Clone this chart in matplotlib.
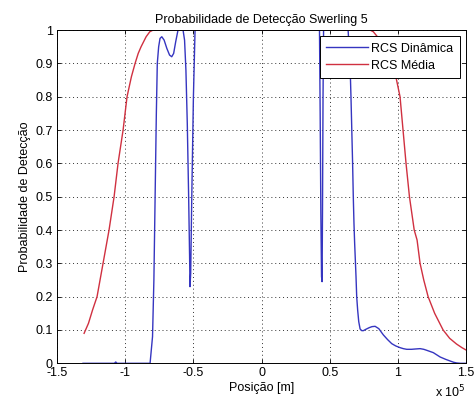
import matplotlib
matplotlib.use("Agg")
import matplotlib.pyplot as plt

plt.rcParams['font.family'] = ['Liberation Sans', 'DejaVu Sans']

# Positions in units of 1e5 m
rcs_din_x = [-1.31, -1.08, -1.07, -1.06, -0.818, -0.80, -0.79, -0.781, -0.772, -0.765,
             -0.755, -0.745, -0.732, -0.715, -0.695, -0.675, -0.659, -0.645, -0.63,
             -0.613, -0.576, -0.565, -0.555, -0.545, -0.535, -0.528, -0.525, -0.52,
             -0.512, -0.50, -0.488, 0.425, 0.43, 0.435, 0.44, 0.444, 0.447, 0.451,
             0.455, 0.635, 0.642, 0.649, 0.656, 0.662, 0.668, 0.673, 0.678, 0.683,
             0.688, 0.693, 0.698, 0.705, 0.713, 0.723, 0.735, 0.747, 0.765, 0.79,
             0.81, 0.833, 0.86, 0.894, 0.925, 0.955, 0.985, 1.016, 1.04, 1.065, 1.10,
             1.13, 1.163, 1.19, 1.212, 1.26, 1.31, 1.35, 1.383, 1.41, 1.432, 1.46, 1.50]
rcs_din_y = [0.0, 0.0, 0.004, 0.0, 0.0, 0.08, 0.25, 0.5, 0.75, 0.9,
             0.95, 0.975, 0.98, 0.97, 0.945, 0.925, 0.92, 0.93, 0.965,
             1.0, 1.0, 0.97, 0.88, 0.72, 0.5, 0.32, 0.23, 0.27,
             0.5, 0.8, 1.0, 1.0, 0.75, 0.45, 0.26, 0.245, 0.45, 0.8,
             1.0, 1.0, 0.95, 0.9, 0.8, 0.7, 0.6, 0.5, 0.42, 0.36,
             0.31, 0.26, 0.2, 0.16, 0.125, 0.103, 0.098, 0.098, 0.102, 0.107,
             0.11, 0.111, 0.104, 0.085, 0.071, 0.059, 0.052, 0.047, 0.044, 0.042, 0.042,
             0.043, 0.044, 0.042, 0.039, 0.032, 0.019, 0.012, 0.007, 0.003, 0.001, 0.0, 0.0]

rcs_media_x = [-1.302, -1.27, -1.24, -1.207, -1.163, -1.119, -1.082, -1.053, -1.016,
               -0.987, -0.955, -0.928, -0.905, -0.884, -0.847, -0.82, -0.796,
               0.796, 0.82, 0.87, 0.928, 0.965, 1.016, 1.038, 1.06, 1.085, 1.12,
               1.141, 1.163, 1.19, 1.222, 1.27, 1.332, 1.38, 1.43, 1.47, 1.50]
rcs_media_y = [0.09, 0.12, 0.16, 0.2, 0.3, 0.4, 0.5, 0.6, 0.7,
               0.8, 0.86, 0.9, 0.93, 0.95, 0.98, 0.995, 1.0,
               1.0, 0.995, 0.97, 0.94, 0.9, 0.8, 0.7, 0.6, 0.5, 0.4,
               0.37, 0.3, 0.25, 0.2, 0.15, 0.1, 0.075, 0.058, 0.047, 0.04]

x_ticks = [-1.5, -1, -0.5, 0, 0.5, 1, 1.5]
x_tick_labels = ['-1.5', '-1', '-0.5', '0', '0.5', '1', '1.5']
y_ticks = [0, 0.1, 0.2, 0.3, 0.4, 0.5, 0.6, 0.7, 0.8, 0.9, 1]
y_tick_labels = ['0', '0.1', '0.2', '0.3', '0.4', '0.5', '0.6', '0.7', '0.8', '0.9', '1']

fig = plt.figure(figsize=(4.76, 4.01), dpi=100)
ax = fig.add_axes([0.120, 0.094, 0.859, 0.831])

ax.plot(rcs_din_x, rcs_din_y, color='#3535c0', lw=1.0, label='RCS Dinâmica')
ax.plot(rcs_media_x, rcs_media_y, color='#d03040', lw=1.0, label='RCS Média')

ax.set_xlim(-1.5, 1.5)
ax.set_ylim(0, 1)
ax.set_xticks(x_ticks)
ax.set_xticklabels(x_tick_labels)
ax.set_yticks(y_ticks)
ax.set_yticklabels(y_tick_labels)
ax.tick_params(direction='in', length=3, width=0.6, labelsize=9, top=True, right=True, pad=3)
ax.grid(True, linestyle=(0, (1, 3)), color='#333333', linewidth=0.7)
for s in ax.spines.values():
    s.set_linewidth(0.7)

ax.set_title('Probabilidade de Detecção Swerling 5', fontsize=9, pad=5)
ax.set_xlabel('Posição [m]', fontsize=9, labelpad=2)
ax.set_ylabel('Probabilidade de Detecção', fontsize=9, labelpad=3)
ax.text(1.0, -0.062, r'x 10$^5$', transform=ax.transAxes, ha='right', va='top', fontsize=9)

leg = ax.legend(loc='upper right', fontsize=9, fancybox=False, framealpha=1,
                edgecolor='black', borderaxespad=0.5, handlelength=3.3,
                labelspacing=0.4, borderpad=0.5, handletextpad=0.3)
leg.get_frame().set_linewidth(0.7)

fig.savefig('out.png', dpi=100, facecolor='white')
